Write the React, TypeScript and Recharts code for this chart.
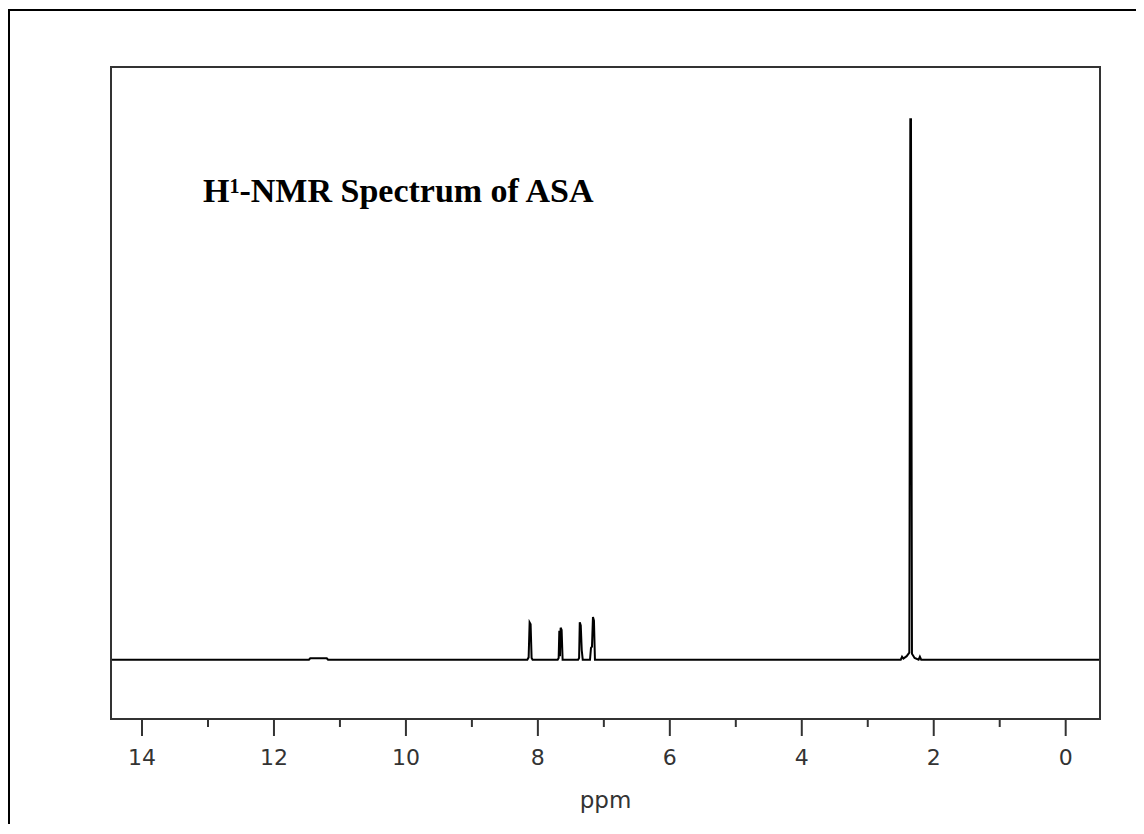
import { LineChart, Line, XAxis, YAxis } from 'recharts';

// chemical shift (ppm) and intensity, high ppm -> low ppm
const ppmValues = [
  14.47, 11.47, 11.45, 11.2, 11.18,
  8.16, 8.14, 8.125, 8.11, 8.095, 8.08,
  7.7, 7.685, 7.675, 7.665, 7.655, 7.64, 7.625,
  7.39, 7.375, 7.365, 7.35, 7.335, 7.32,
  7.21, 7.195, 7.18, 7.165, 7.15, 7.135,
  2.5, 2.48, 2.46, 2.41, 2.37, 2.355, 2.345, 2.33, 2.29, 2.23, 2.21, 2.19, -0.52,
];
const intensityValues = [
  0, 0, 0.025, 0.025, 0,
  0, 0.04, 0.63, 0.6, 0.03, 0,
  0, 0.03, 0.49, 0.06, 0.54, 0.5, 0,
  0, 0.03, 0.63, 0.58, 0.16, 0,
  0, 0.2, 0.22, 0.72, 0.66, 0,
  0, 0.05, 0.02, 0.06, 0.12, 9.12, 9.12, 0.1, 0.03, 0, 0.05, 0, 0,
];
const tickValues = [0, 1, 2, 3, 4, 5, 6, 7, 8, 9, 10, 11, 12, 13, 14];
const labelledTicks = [0, 2, 4, 6, 8, 10, 12, 14];

const spectrum = ppmValues.map((ppm, i) => ({ ppm, intensity: intensityValues[i] }));

const PpmTick = ({ x, y, payload }: any) => {
  const major = labelledTicks.includes(payload.value);
  return (
    <g>
      <line x1={x} x2={x} y1={y} y2={y + (major ? 17 : 8)} stroke="#333" strokeWidth={2} />
      {major && (
        <text x={x} y={y + 46} textAnchor="middle" fill="#333" fontSize={22} fontFamily="DejaVu Sans">
          {payload.value}
        </text>
      )}
    </g>
  );
};

const PpmLabel = ({ viewBox }: any) => {
  const { x, y, width } = viewBox;
  return (
    <text x={x + width / 2} y={y + 89} textAnchor="middle" fill="#333" fontSize={23} fontFamily="DejaVu Sans">
      ppm
    </text>
  );
};

export default function App() {
  return (
    <div style={{
      position: 'relative', top: 1, width: 1136, height: 816, boxSizing: 'border-box',
      borderTop: '2px solid #000', borderLeft: '2px solid #000', background: '#fff',
    }}>
      <style>{'body { overflow: hidden; }'}</style>
      <LineChart
        width={1126}
        height={813}
        data={spectrum}
        margin={{ top: 56, right: 36, left: 101, bottom: 5 }}
      >
        <XAxis
          dataKey="ppm"
          type="number"
          domain={[-0.52, 14.47]}
          reversed
          allowDataOverflow
          ticks={tickValues}
          interval={0}
          height={100}
          axisLine={false}
          tickLine={false}
          tickSize={0}
          tickMargin={0}
          tick={<PpmTick />}
          label={<PpmLabel />}
        />
        <YAxis hide domain={[-1, 10]} allowDataOverflow />
        <Line
          type="linear"
          dataKey="intensity"
          stroke="#000"
          strokeWidth={2}
          dot={false}
          isAnimationActive={false}
        />
      </LineChart>
      <svg width={1126} height={813} style={{ position: 'absolute', left: 0, top: 0, pointerEvents: 'none' }}>
        <rect x={101} y={56} width={989} height={652} fill="none" stroke="#333" strokeWidth={2} />
        <text x={193} y={191} fontFamily="Liberation Serif" fontWeight="bold" fontSize={34} fill="#000">
          H<tspan fontSize={20} dy={-9}>1</tspan><tspan dy={9}>-NMR Spectrum of ASA</tspan>
        </text>
      </svg>
    </div>
  );
}
